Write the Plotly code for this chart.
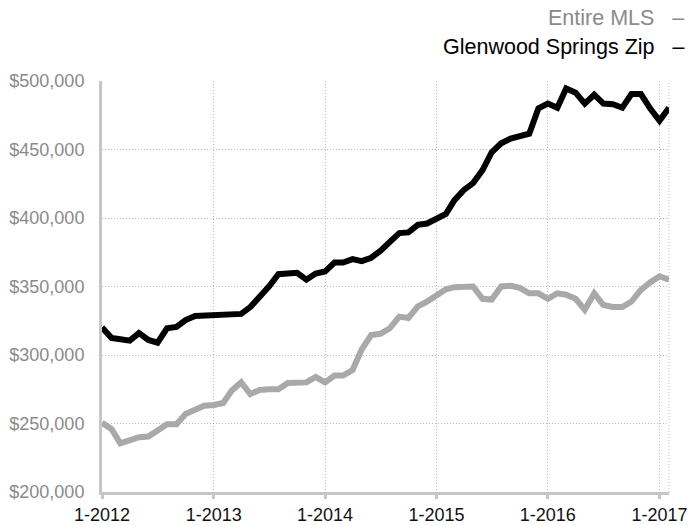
import pandas as pd
import plotly.graph_objects as go

# ---- data (values in dollars) ----
start_month = "2012-01-01"
n_months = 62
entire_mls = [250.5, 246, 235.5, 237.5, 240, 240.5, 245, 249.5, 249.5, 257, 260, 263,
              263.5, 265, 274, 280, 271.5, 274.5, 275, 275, 279.5, 280, 280, 284,
              280, 285, 285, 289, 304, 314.5, 315.5, 319.5, 328, 327, 335.5, 339,
              344, 348, 349.5, 350, 350, 341, 340.5, 350, 350.5, 349, 345, 345,
              341, 345, 344, 341, 333, 345, 336.5, 335, 335, 339, 347.5, 353,
              357.5, 355]
glenwood = [320, 312.5, 311.5, 310.5, 316, 311, 309, 319.5, 320.5, 325.5, 328.5, 329,
            329.5, 330, 329.5, 330, 335, 342.5, 350, 359, 359.5, 360, 355, 359.5,
            361, 367.5, 367.5, 370, 368.5, 371, 376, 383, 389, 389.5, 395, 396,
            399.5, 403, 413, 420.5, 425.5, 435, 448, 454.5, 458, 460, 461.5, 480,
            483.5, 480.5, 494.5, 491.5, 483.5, 490, 483.5, 483, 480.5, 490.5, 490.5, 480,
            471, 480.5]
entire_mls = [v * 1000 for v in entire_mls]
glenwood = [v * 1000 for v in glenwood]
tick_dates = ["2012-01-01", "2013-01-01", "2014-01-01", "2015-01-01", "2016-01-01", "2017-01-01"]
tick_labels = ["1-2012", "1-2013", "1-2014", "1-2015", "1-2016", "1-2017"]
series_names = ["Entire MLS", "Glenwood Springs Zip"]

dates = pd.date_range(start_month, periods=n_months, freq="MS")

FONT = "Liberation Sans, Arial, Helvetica, sans-serif"
GRAY_LINE = "#a9a9a9"
AXIS_C = "#c6c6c6"
GRID_C = "#bdbdbd"

fig = go.Figure()
fig.add_trace(go.Scatter(x=dates, y=entire_mls, mode="lines", name=series_names[0],
                         line=dict(color=GRAY_LINE, width=6), showlegend=False))
fig.add_trace(go.Scatter(x=dates, y=glenwood, mode="lines", name=series_names[1],
                         line=dict(color="#000000", width=6), showlegend=False))

fig.update_layout(
    width=691, height=525,
    margin=dict(l=102, r=22, t=81, b=33),
    paper_bgcolor="white", plot_bgcolor="white",
    font=dict(family=FONT, size=18),
    xaxis=dict(
        type="date", range=[dates[0], dates[-1]],
        tickvals=tick_dates, ticktext=tick_labels,
        tickfont=dict(color="#111111", size=18),
        showgrid=True, gridcolor=GRID_C, griddash="1px,2px", gridwidth=1,
        showline=True, linecolor=AXIS_C, linewidth=3,
        ticks="outside", ticklen=4, tickwidth=3, tickcolor=AXIS_C,
        zeroline=False, fixedrange=True, automargin=False,
    ),
    yaxis=dict(
        range=[200000, 500000], dtick=50000, tickprefix="$", tickformat=",",
        tickfont=dict(color="#8a8a8a", size=18),
        showgrid=True, gridcolor=GRID_C, griddash="1px,2px", gridwidth=1,
        showline=True, linecolor=AXIS_C, linewidth=3,
        ticks="outside", ticklen=11, tickcolor="rgba(0,0,0,0)",
        zeroline=False, fixedrange=True, automargin=False,
    ),
)

# right edge dotted border
fig.add_shape(type="line", xref="paper", yref="paper", x0=1, x1=1, y0=0, y1=1,
              line=dict(color=GRID_C, width=1, dash="1px,2px"), layer="below")

# legend (text, then dash on the right)
fig.add_annotation(xref="paper", yref="paper", x=1.03, y=1.153, xanchor="right", yanchor="middle",
                   text=series_names[0] + "\u00a0\u00a0\u00a0\u2013", showarrow=False,
                   font=dict(family=FONT, size=21.5, color="#8a8a8a"))
fig.add_annotation(xref="paper", yref="paper", x=1.03, y=1.083, xanchor="right", yanchor="middle",
                   text=series_names[1] + "\u00a0\u00a0\u00a0\u2013", showarrow=False,
                   font=dict(family=FONT, size=21.5, color="#000000"))

fig.write_html("out.html", config={"displayModeBar": False},
               post_script="document.body.style.margin='0';document.body.style.overflow='hidden';")
